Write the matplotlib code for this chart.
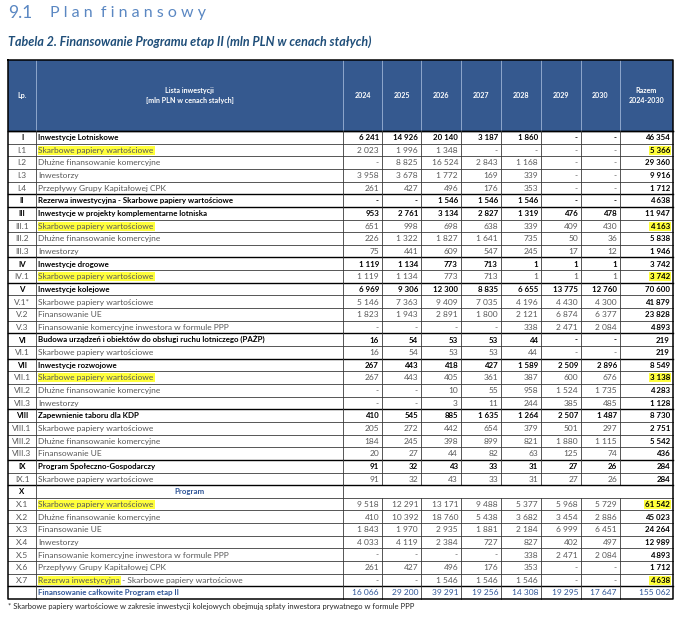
""" Tabela 2 - finansowanie Programu etap II
"""

import matplotlib.pyplot as plt

lp = ['I', 'I.1', 'I.2', 'I.3', 'I.4', 'II', 'III', 'III.1', 'III.2', 'III.3',
      'IV', 'IV.1', 'V', 'V.1*', 'V.2', 'V.3', 'VI', 'VI.1', 'VII', 'VII.1',
      'VII.2', 'VII.3', 'VIII', 'VIII.1', 'VIII.2', 'VIII.3', 'IX', 'IX.1',
      'X', 'X.1', 'X.2', 'X.3', 'X.4', 'X.5', 'X.6', 'X.7', '']
names = [
    'Inwestycje Lotniskowe', 'Skarbowe papiery wartościowe',
    'Dłużne finansowanie komercyjne', 'Inwestorzy',
    'Przepływy Grupy Kapitałowej CPK',
    'Rezerwa inwestycyjna - Skarbowe papiery wartościowe',
    'Inwestycje w projekty komplementarne lotniska',
    'Skarbowe papiery wartościowe', 'Dłużne finansowanie komercyjne',
    'Inwestorzy', 'Inwestycje drogowe', 'Skarbowe papiery wartościowe',
    'Inwestycje kolejowe', 'Skarbowe papiery wartościowe', 'Finansowanie UE',
    'Finansowanie komercyjne inwestora w formule PPP',
    'Budowa urządzeń i obiektów do obsługi ruchu lotniczego (PAŻP)',
    'Skarbowe papiery wartościowe', 'Inwestycje rozwojowe',
    'Skarbowe papiery wartościowe', 'Dłużne finansowanie komercyjne',
    'Inwestorzy', 'Zapewnienie taboru dla KDP', 'Skarbowe papiery wartościowe',
    'Dłużne finansowanie komercyjne', 'Finansowanie UE',
    'Program Społeczno-Gospodarczy', 'Skarbowe papiery wartościowe',
    'Program', 'Skarbowe papiery wartościowe', 'Dłużne finansowanie komercyjne',
    'Finansowanie UE', 'Inwestorzy',
    'Finansowanie komercyjne inwestora w formule PPP',
    'Przepływy Grupy Kapitałowej CPK',
    'Rezerwa inwestycyjna - Skarbowe papiery wartościowe',
    'Finansowanie całkowite Program etap II']
years = ['2024', '2025', '2026', '2027', '2028', '2029', '2030']
N = None
y2024 = [6241, 2023, N, 3958, 261, N, 953, 651, 226, 75, 1119, 1119, 6969, 5146,
         1823, N, 16, 16, 267, 267, N, N, 410, 205, 184, 20, 91, 91, N, 9518,
         410, 1843, 4033, N, 261, N, 16066]
y2025 = [14926, 1996, 8825, 3678, 427, N, 2761, 998, 1322, 441, 1134, 1134,
         9306, 7363, 1943, N, 54, 54, 443, 443, N, N, 545, 272, 245, 27, 32, 32,
         N, 12291, 10392, 1970, 4119, N, 427, N, 29200]
y2026 = [20140, 1348, 16524, 1772, 496, 1546, 3134, 698, 1827, 609, 773, 773,
         12300, 9409, 2891, N, 53, 53, 418, 405, 10, 3, 885, 442, 398, 44, 43,
         43, N, 13171, 18760, 2935, 2384, N, 496, 1546, 39291]
y2027 = [3187, N, 2843, 169, 176, 1546, 2827, 638, 1641, 547, 713, 713, 8835,
         7035, 1800, N, 53, 53, 427, 361, 55, 11, 1635, 654, 899, 82, 33, 33, N,
         9488, 5438, 1881, 727, N, 176, 1546, 19256]
y2028 = [1860, N, 1168, 339, 353, 1546, 1319, 339, 735, 245, 1, 1, 6655, 4196,
         2121, 338, 44, 44, 1589, 387, 958, 244, 1264, 379, 821, 63, 31, 31, N,
         5377, 3682, 2184, 827, 338, 353, 1546, 14308]
y2029 = [N, N, N, N, N, N, 476, 409, 50, 17, 1, 1, 13775, 4430, 6874, 2471, N, N,
         2509, 600, 1524, 385, 2507, 501, 1880, 125, 27, 27, N, 5968, 3454, 6999,
         402, 2471, N, N, 19295]
y2030 = [N, N, N, N, N, N, 478, 430, 36, 12, 1, 1, 12760, 4300, 6377, 2084, N, N,
         2896, 676, 1735, 485, 1487, 297, 1115, 74, 26, 26, N, 5729, 2886, 6451,
         497, 2084, N, N, 17647]
razem = [46354, 5366, 29360, 9916, 1712, 4638, 11947, 4163, 5838, 1946, 3742,
         3742, 70600, 41879, 23828, 4893, 219, 219, 8549, 3138, 4283, 1128, 8730,
         2751, 5542, 436, 284, 284, N, 61542, 45023, 24264, 12989, 4893, 1712,
         4638, 155062]
bold_rows = [0, 5, 6, 10, 12, 16, 18, 22, 26, 28]
section_row = 28
total_row = 36
highlight_rows = [1, 7, 11, 19, 29, 35]

plt.rcParams['font.family'] = ['Lato', 'DejaVu Sans']

fig = plt.figure(figsize=(6.8, 6.17), dpi=100)
ax = fig.add_axes([0, 0, 1, 1])
ax.set_xlim(0, 680)
ax.set_ylim(617, 0)
ax.axis('off')

HEAD_BLUE = '#35598f'
TXT_BLUE = '#2f5597'
GREY = '#595959'
YELLOW = '#ffff3b'
TITLE_BLUE = '#5a87c2'

# column edges (pixels)
edges = [8, 36, 343, 382, 421, 461, 501, 541, 581, 620, 673]
head_top, head_bot, tab_bot = 60, 131, 599
nrows = len(lp)
rh = (tab_bot - head_bot) / nrows

ax.text(8, 13, '9.1', fontsize=12.5, color=TITLE_BLUE, va='center')
ax.text(50, 13, 'P l a n  f i n a n s o w y', fontsize=11.5,
        color=TITLE_BLUE, va='center')
ax.text(8, 42, 'Tabela 2. Finansowanie Programu etap II (mln PLN w cenach stałych)',
        fontsize=9, color='#1f4e79', style='italic', weight='bold', va='center')

# header
ax.add_patch(plt.Rectangle((edges[0], head_top), edges[-1] - edges[0],
                           head_bot - head_top, color=HEAD_BLUE, lw=0))
for x in edges[1:-1]:
    ax.plot([x, x], [head_top, head_bot], color='#9db3d6', lw=0.6)
hy = (head_top + head_bot) / 2
hkw = dict(color='white', fontsize=5.1, weight='bold', ha='center', va='center')
ax.text((edges[0] + edges[1]) / 2, hy, 'Lp.', **hkw)
ax.text((edges[1] + edges[2]) / 2, hy,
        'Lista inwestycji\n[mln PLN w cenach stałych]', linespacing=1.5, **hkw)
for i, yr in enumerate(years):
    ax.text((edges[i + 2] + edges[i + 3]) / 2, hy, yr, **hkw)
ax.text((edges[-2] + edges[-1]) / 2, hy, 'Razem\n2024-2030', linespacing=1.6,
        **hkw)


def fmt(v):
    return '-' if v is None else f'{v:,}'.replace(',', ' ')


cols = [y2024, y2025, y2026, y2027, y2028, y2029, y2030, razem]
fs = 6.0
fsb = 5.7
for r in range(nrows):
    top = head_bot + r * rh
    yc = top + rh / 2 + 0.3
    bold = r in bold_rows
    # horizontal line above row
    heavy = bold or r == total_row
    ax.plot([edges[0], edges[-1]], [top, top], color='black' if heavy else '#3a3a3a',
            lw=1.0 if heavy else 0.6, zorder=3)
    # verticals
    vx = edges[1:3] if r == section_row else edges[1:-1]
    for x in vx:
        ax.plot([x, x], [top, top + rh], color='#3a3a3a', lw=0.6, zorder=3)

    lp_col = 'black' if bold else GREY
    ax.text((edges[0] + edges[1]) / 2, yc, lp[r], fontsize=fsb if bold else fs,
            ha='center', va='center', color=lp_col,
            weight='bold' if bold else 'normal')

    if r == section_row:
        ax.text((edges[1] + edges[2]) / 2, yc, names[r], fontsize=fsb,
                ha='center', va='center', color=TXT_BLUE, weight='bold')
        continue

    if r == total_row:
        ncol, nw = TXT_BLUE, 'bold'
    elif bold:
        ncol, nw = 'black', 'bold'
    else:
        ncol, nw = GREY, 'normal'

    hl = dict(boxstyle='square,pad=0.12', fc=YELLOW, ec='none')
    if r in highlight_rows and names[r].startswith('Rezerwa'):
        first, rest = names[r].split(' - ', 1)
        t1 = ax.text(edges[1] + 2.5, yc, first, fontsize=fs, va='center',
                     color=ncol, bbox=hl)
        ax.annotate(' - ' + rest, xy=(1, 0.5), xycoords=t1, va='center',
                    fontsize=fs, color=ncol)
    else:
        ax.text(edges[1] + 2.5, yc, names[r], fontsize=fsb if nw == 'bold' else fs,
                va='center', color=ncol, weight=nw,
                bbox=hl if r in highlight_rows else None)

    for c, col in enumerate(cols):
        x_right = edges[c + 3] - 3
        last = c == len(cols) - 1
        if r == total_row:
            color, w = TXT_BLUE, 'normal'
        elif last or bold:
            color, w = 'black', 'bold'
        else:
            color, w = GREY, 'normal'
        ax.text(x_right, yc, fmt(col[r]), fontsize=fsb if w == 'bold' else fs,
                ha='right', va='center', color=color, weight=w,
                bbox=hl if (last and r in highlight_rows) else None)

# outer border
ax.plot([edges[0], edges[-1]], [head_bot, head_bot], color='black', lw=1.0)
ax.plot([edges[0], edges[-1], edges[-1], edges[0], edges[0]],
        [head_top, head_top, tab_bot, tab_bot, head_top], color='black', lw=1.1,
        zorder=4)

ax.text(8, 606.5, '* Skarbowe papiery wartościowe w zakresie inwestycji kolejowych '
        'obejmują spłaty inwestora prywatnego w formule PPP', fontsize=5.5,
        va='center', color='#262626')

fig.savefig('out.png', dpi=100)
